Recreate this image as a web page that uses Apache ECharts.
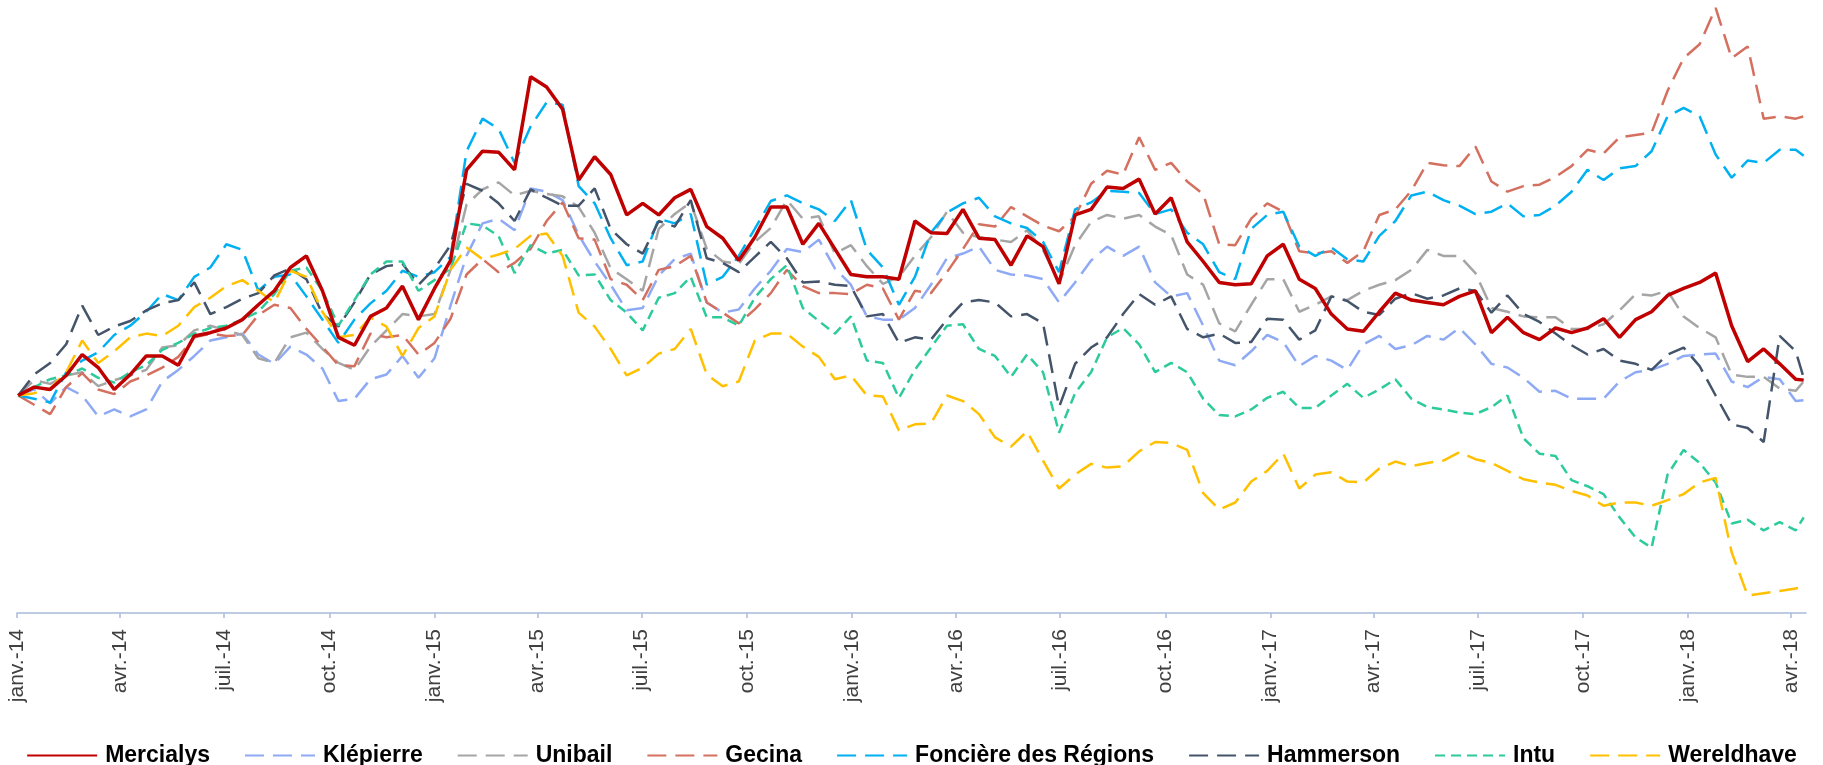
<!DOCTYPE html>
<html>
<head>
<meta charset="utf-8">
<title>Foncières cotées - évolution des cours</title>
<script src="https://cdn.jsdelivr.net/npm/echarts@6/dist/echarts.min.js"></script>
<style>
  html, body { margin: 0; padding: 0; background: #ffffff; }
  #lineChart { width: 1823px; height: 765px; }
</style>
</head>
<body>
<div id="lineChart"></div>
<script>
// dates des relevés : toutes les deux semaines à partir du 2 janv. 2014, dernier relevé le 12 avr. 2018
const firstDate = [2014, 0, 2];
const stepDays = 14;
const stepCount = 112;
const lastDate = [2018, 3, 12];

// libellés des trimestres de l'axe x
const quarterMonths = ['janv.', 'avr.', 'juil.', 'oct.'];
const firstQuarter = [2014, 0];
const quarterCount = 18;

// indices (base 100 au départ)
const mercialys = [
  100, 101.8, 101.3, 104.3, 108.8, 106, 101.3, 104.5, 108.5, 108.5,
  106.5, 112.8, 113.5, 114.5, 116.3, 119.5, 122.5, 127.5, 130, 122.5,
  112.5, 110.8, 117, 118.8, 123.5, 116.3, 123, 129, 148.5, 152.5,
  152.3, 148.5, 168.5, 166.3, 161.5, 146.3, 151.3, 147.5, 138.8, 141.3,
  138.8, 142.5, 144.3, 136.3, 133.8, 129, 134, 140.5, 140.5, 132.5,
  137, 131.5, 126, 125.5, 125.5, 125, 137.5, 135, 134.8, 140,
  133.8, 133.5, 128, 134.3, 132, 124, 138.8, 140, 144.8, 144.5,
  146.5, 139, 142.5, 133, 128.8, 124.3, 123.8, 124, 130, 132.5,
  125, 123, 117.5, 114.3, 113.8, 118, 122, 120.5, 120, 119.5,
  121.3, 122.5, 113.5, 116.8, 113.5, 112, 114.5, 113.5, 114.5, 116.5,
  112.5, 116.3, 118, 121.5, 123, 124.3, 126.3, 115, 107.3, 110,
  106.8, 103.5, 103.3
];
const klepierre = [
  100, 101.3, 98.3, 101.8, 100, 95.5, 97, 95.5, 97, 103,
  105.5, 108.5, 111.8, 112.5, 113.3, 108.8, 106.8, 110.5, 108.8, 105.8,
  98.8, 99.3, 103.5, 104.5, 108.5, 103.8, 108, 119.3, 130, 137,
  138, 135.5, 144.5, 143.8, 142, 134.5, 128.8, 123.8, 118.3, 118.8,
  125.8, 129.3, 130.5, 120, 117.8, 118.5, 123, 126.8, 131.5, 130.8,
  133.5, 127.3, 123.8, 117, 116.3, 116.3, 118.8, 123.8, 129.5, 130.5,
  132, 127, 126, 125.8, 125, 120, 124.3, 129, 132, 130,
  132, 124.3, 121.3, 122, 115, 107.5, 106.5, 109.5, 113, 111.5,
  106.3, 108.5, 107.5, 105.5, 111, 112.8, 110, 110.8, 112.8, 112,
  114.5, 111, 106.8, 106, 103.8, 100.8, 101, 99.3, 99.3, 99.3,
  103, 105, 105.5, 106.8, 108.5, 108.8, 109, 103, 101.8, 104,
  103.5, 98.8, 99
];
const unibail = [
  100, 103.3, 102.5, 104.3, 105, 102, 103.3, 104.3, 105.5, 110.3,
  110.8, 114, 115, 114, 113, 108, 107, 112.5, 113.5, 110,
  107, 105.5, 110.5, 114, 117.5, 117, 117.5, 127, 141, 144.3,
  145.8, 143, 144, 143.3, 142.8, 140.5, 135, 127.3, 125, 122.5,
  135.8, 139, 141.5, 131.5, 128.8, 128.3, 133, 136, 142, 138,
  138.5, 130.5, 132.3, 127.8, 124, 125.5, 130, 134, 139.5, 135,
  134, 133.5, 133, 135.5, 131.3, 124.3, 132.3, 137.3, 138.8, 138,
  138.8, 136.3, 134.5, 126, 123.8, 115.5, 113.8, 119.5, 125, 125,
  118, 119.5, 121.3, 120.5, 122.5, 123.8, 124.8, 127, 131.3, 130,
  130, 126.3, 118.8, 118, 117, 116.8, 116.8, 114.3, 114.3, 115.3,
  118.3, 121.8, 121.5, 122.5, 117, 114.5, 112.5, 104.5, 104, 104,
  101.5, 101, 103
];
const gecina = [
  100, 98, 96, 101.8, 104.8, 101.3, 100.3, 103, 104.3, 106,
  108.3, 112.5, 113.3, 112.8, 113, 117.3, 119.5, 118.8, 114.3, 110.5,
  106.5, 106.3, 113.3, 112.5, 113, 108.8, 111.3, 116.5, 126, 129.3,
  126.5, 128.5, 131.5, 137.5, 141.5, 133.8, 133.5, 125, 123.8, 120.5,
  127, 127.8, 130, 120, 117.8, 115.5, 118.5, 122, 127, 123.5,
  122, 122, 121.8, 123.8, 123, 116.3, 122.5, 122, 126.5, 131.5,
  136.8, 136.3, 140.5, 138.5, 136.5, 135.3, 138.5, 145.5, 148.3, 147.5,
  155.5, 148.5, 150, 146, 143.3, 132.5, 132.3, 138, 141.3, 139.5,
  131, 130.5, 131, 128.5, 131, 138.8, 140, 144, 150, 149.5,
  149.3, 153.5, 146, 143.8, 145, 145.3, 147, 149.3, 152.8, 152,
  155.5, 156, 156.5, 165.5, 172.5, 175.5, 183.3, 172.5, 175, 159.5,
  160, 159.5, 160
];
const fonciereRegions = [
  100, 99.3, 98.5, 105, 107.5, 109.3, 113, 115, 118, 121.8,
  120.5, 125.5, 127.5, 132.5, 131.3, 122.5, 125.5, 126, 121.3, 116.3,
  111.3, 116.3, 119.8, 122.5, 126.8, 125.5, 126.5, 129.8, 152.5, 159.5,
  157.3, 150, 157.8, 163, 162.5, 145, 141.3, 133.8, 128, 128.8,
  138, 137, 139, 123.8, 125.5, 130, 135.8, 141.8, 143, 141.3,
  140, 137.5, 142, 131.3, 127.5, 119.5, 125.5, 135, 139.3, 141.3,
  142.5, 138.5, 137, 136, 133, 126.5, 140, 141.5, 144, 143.8,
  143.5, 139, 140, 135, 132.5, 126.5, 125, 135.8, 138.8, 139.5,
  132, 130, 131.8, 129.3, 128.8, 134.3, 137.5, 143, 143.8, 142,
  140.8, 139, 139.5, 141.3, 138.5, 138.8, 140.8, 143.8, 148.5, 146.3,
  148.8, 149.3, 152.5, 160, 161.8, 160, 151.8, 146.8, 150.5, 150,
  152.8, 152.8, 151.5
];
const hammerson = [
  100, 104.5, 107, 111, 119.3, 113, 114.8, 116, 118.3, 119.8,
  120.5, 124.3, 117.5, 119, 120.8, 122, 125.8, 127.3, 125, 117.5,
  114.8, 120, 126, 127.8, 128.3, 123.8, 127.3, 132.3, 145.5, 144,
  141.3, 137.5, 144.3, 142.5, 140.8, 140.8, 144.5, 135.8, 132.5, 130.5,
  137.5, 136.3, 142, 129.5, 128.5, 126.5, 129.8, 133, 129.5, 124.3,
  124.5, 123.8, 123.5, 117, 117.5, 111.3, 112.5, 112, 116.3, 120,
  120.5, 120, 117, 117.5, 115.5, 97.5, 106.8, 110.3, 112.5, 117.5,
  121.8, 119.5, 121.3, 114.3, 112.5, 113.3, 111.3, 111.5, 116.5, 116.3,
  112, 114, 121.3, 120.3, 118, 117.3, 120.8, 122, 120.8, 121.5,
  123, 122.5, 117.8, 121.5, 117.5, 115.8, 113.3, 110.8, 108.8, 110,
  107.5, 106.8, 105.5, 108.8, 110.3, 106.3, 100, 93.8, 93, 90,
  112.8, 109.5, 103.8
];
const intu = [
  100, 101.8, 103.5, 104.3, 105.8, 103.8, 102.8, 105, 106.5, 109.8,
  111.3, 113.3, 114.5, 115, 116.3, 118, 121.8, 126.8, 127.5, 122.5,
  115, 120.5, 126, 128.8, 128.8, 122.5, 124.8, 127.3, 137, 136.5,
  134.3, 126.3, 132.3, 130.5, 131.3, 125.8, 126, 120.5, 117.8, 114,
  121, 122, 125.5, 116.8, 116.8, 115, 121, 125, 128, 118.8,
  116, 113.3, 117, 107.5, 107, 99.5, 105.5, 110.3, 115, 115.3,
  110, 108.5, 104, 108.8, 105, 92, 100.5, 105, 112.5, 114.5,
  111, 105, 107, 105, 99.3, 95.8, 95.5, 97, 99.5, 100.8,
  97.3, 97.3, 100, 102.5, 99.5, 101.3, 103.5, 99.3, 97.5, 97,
  96.3, 96, 97.5, 100, 90.8, 87.5, 87, 81.8, 80.5, 78.8,
  73.8, 69.5, 67.3, 83, 88.3, 85.5, 81.3, 72.5, 73.3, 71,
  72.8, 71, 73.8
];
const wereldhave = [
  100, 100.5, 101.5, 105, 111.8, 107, 109.5, 112.5, 113.3, 112.8,
  115, 119, 121, 123.5, 124.8, 122.5, 120, 126.8, 125.5, 118,
  112.5, 113, 116.8, 114.8, 108.5, 114.5, 117, 127, 131.8, 129.3,
  130.3, 131.5, 134.3, 134.8, 130, 117.8, 114.8, 110, 104.3, 106,
  109, 110, 114.3, 104.5, 102, 103, 111.8, 113.3, 113.3, 110.5,
  108.3, 103.5, 104.3, 100, 99.8, 92.5, 93.8, 94, 100, 98.8,
  96, 91, 89, 92.3, 86, 80, 83, 85.3, 84.5, 84.8,
  88, 90, 89.8, 88.3, 79, 75.5, 77, 81.5, 83.8, 87.5,
  80, 83, 83.5, 81.5, 81.3, 84.3, 85.8, 84.8, 85.5, 86,
  87.8, 86.3, 85.5, 83.8, 82, 81.3, 80.8, 79.5, 78.5, 76.3,
  77, 77, 76.3, 77.5, 78.8, 81.3, 82.3, 66.3, 57, 57.5,
  58, 58.5, 59.3
];

// construction des dates (en ms)
let dates = [];
for (let i = 0; i < stepCount; i++) {
  dates.push(new Date(firstDate[0], firstDate[1], firstDate[2] + i * stepDays).getTime());
}
dates.push(new Date(lastDate[0], lastDate[1], lastDate[2]).getTime());

// début de chaque trimestre : graduations de l'axe x
let quarterTicks = [];
for (let q = 0; q < quarterCount; q++) {
  quarterTicks.push(new Date(firstQuarter[0], firstQuarter[1] + q * 3, 1).getTime());
}

function pairs(values) {
  return values.map(function (v, i) { return [dates[i], v]; });
}

function dashed(name, values, color, dash) {
  return {
    name: name,
    type: 'line',
    data: pairs(values),
    symbol: 'none',
    lineStyle: { color: color, width: 2.5, type: dash },
    itemStyle: { color: color }
  };
}

const axisColor = '#A9BCD9';
const longDash = [19, 9];
const shortDash = [10, 6];

let lineChart = echarts.init(document.getElementById('lineChart'));

let option = {
  animation: false,
  backgroundColor: '#ffffff',
  grid: { left: 17, right: 17, top: 0, bottom: 152 },
  legend: {
    data: ['Mercialys', 'Klépierre', 'Unibail', 'Gecina', 'Foncière des Régions', 'Hammerson', 'Intu', 'Wereldhave'],
    left: 'center',
    top: 739,
    itemWidth: 70,
    itemHeight: 14,
    itemGap: 34,
    // pas de symbole au milieu du trait de légende
    itemStyle: { opacity: 0 },
    textStyle: {
      fontFamily: 'Liberation Sans, Arial, sans-serif',
      fontSize: 23,
      fontWeight: 'bold',
      color: '#000000',
      padding: [0, 0, 0, 3]
    }
  },
  xAxis: {
    // axe en valeurs (dates en ms) pour pouvoir placer les graduations trimestrielles
    type: 'value',
    min: new Date(2014, 0, 1).getTime(),
    max: new Date(2018, 3, 14).getTime(),
    axisLine: { lineStyle: { color: axisColor, width: 1.5 } },
    axisTick: { customValues: quarterTicks, length: 5, lineStyle: { color: axisColor, width: 1.5 } },
    axisLabel: {
      customValues: quarterTicks,
      rotate: 90,
      margin: 16,
      fontFamily: 'Liberation Sans, Arial, sans-serif',
      fontSize: 21,
      color: '#404040',
      formatter: function (value) {
        let d = new Date(value);
        return quarterMonths[Math.floor(d.getMonth() / 3)] + '-' + String(d.getFullYear()).slice(2);
      }
    },
    splitLine: { show: false }
  },
  yAxis: {
    type: 'value',
    show: false,
    min: 53.25,
    max: 185
  },
  series: [
    dashed('Klépierre', klepierre, '#8FAAF5', longDash),
    dashed('Unibail', unibail, '#A5A5A5', longDash),
    dashed('Gecina', gecina, '#D4705F', longDash),
    dashed('Foncière des Régions', fonciereRegions, '#00B0F0', longDash),
    dashed('Hammerson', hammerson, '#44546A', longDash),
    dashed('Intu', intu, '#2DCB9C', shortDash),
    dashed('Wereldhave', wereldhave, '#FFC000', longDash),
    {
      name: 'Mercialys',
      type: 'line',
      data: pairs(mercialys),
      symbol: 'none',
      lineStyle: { color: '#C00000', width: 3.5 },
      itemStyle: { color: '#C00000' }
    }
  ]
};

lineChart.setOption(option);
</script>
</body>
</html>
